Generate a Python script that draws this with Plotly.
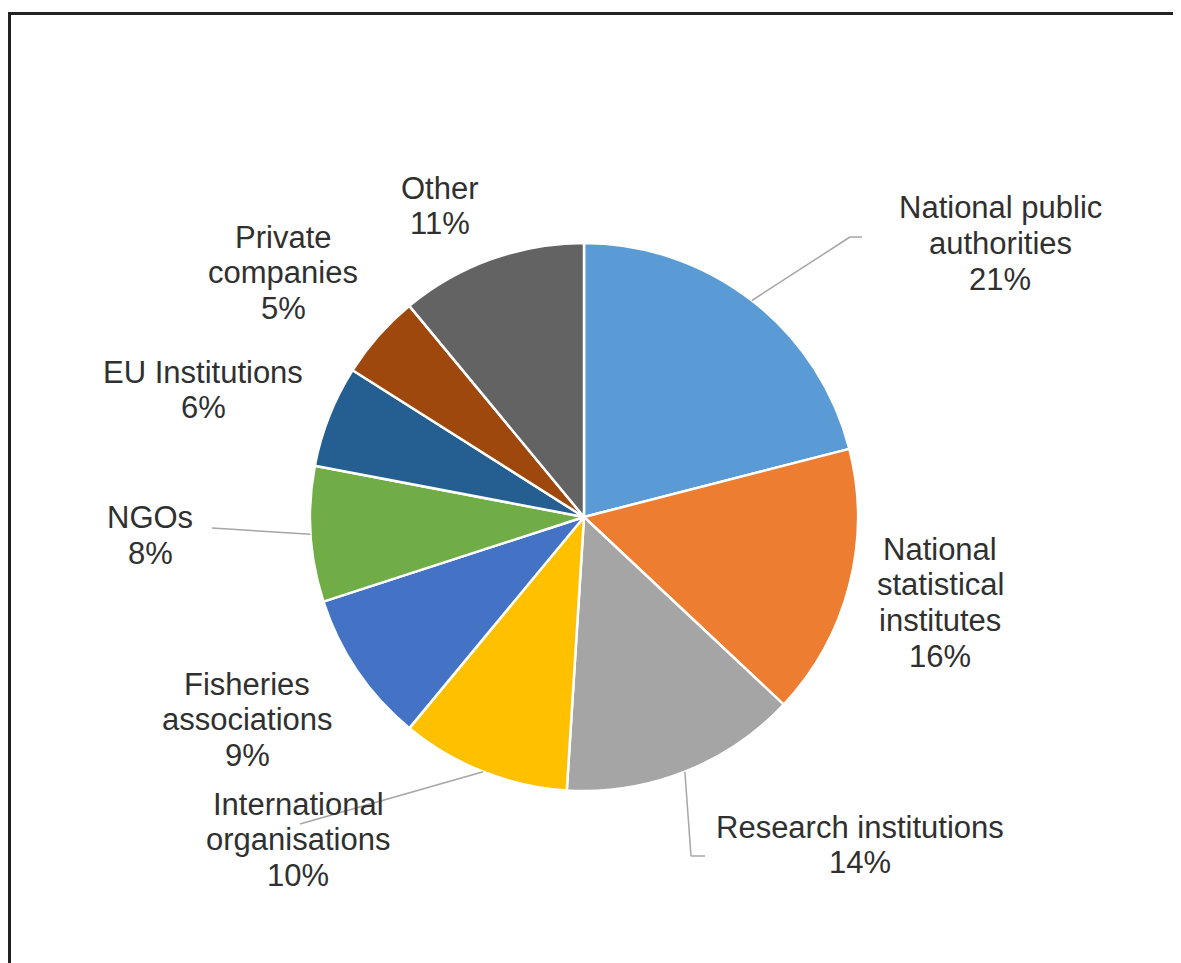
import math
import plotly.graph_objects as go

W, H = 1181, 963
OX, OY = 8, 7  # page offset of the figure inside the browser window

categories = ["National public authorities", "National statistical institutes",
              "Research institutions", "International organisations",
              "Fisheries associations", "NGOs", "EU Institutions",
              "Private companies", "Other"]
values = [21, 16, 14, 10, 9, 8, 6, 5, 11]
label_lines = [["National public", "authorities"],
               ["National", "statistical", "institutes"],
               ["Research institutions"],
               ["International", "organisations"],
               ["Fisheries", "associations"],
               ["NGOs"],
               ["EU Institutions"],
               ["Private", "companies"],
               ["Other"]]
colors = ["#5B9BD5", "#ED7D31", "#A5A5A5", "#FFC000", "#4472C4",
          "#70AD47", "#255E91", "#9E480E", "#636363"]

# layout (pixel, window coordinates) settings
CX, CY, R = 584, 516, 274
LINE_H = 35.7
# (center x, first-line center y) of each label
label_pos = [(1000, 207), (940, 548), (860, 826), (298, 803), (247, 683),
             (150, 517), (203, 371), (283, 236), (440, 187)]
# leader line end points (px) for labels that have one; None otherwise
leader_end = [[(850, 236), (862, 236)], None, [(691, 855), (705, 855)],
              [(300, 823)], None, [(212, 527)], None, None, None]


def px(x, y):
    return (x - OX) / W, 1 - (y - OY) / H


d0 = px(CX - R, CY + R)
d1 = px(CX + R, CY - R)
fig = go.Figure(go.Pie(
    labels=categories, values=values, sort=False, direction="clockwise",
    rotation=0, textinfo="none", hoverinfo="label+percent",
    marker=dict(colors=colors, line=dict(color="white", width=2.5)),
    domain=dict(x=[d0[0], d1[0]], y=[d0[1], d1[1]]),
    showlegend=False,
))

total = sum(values)
shapes = []
annotations = []
cum = 0
for i, v in enumerate(values):
    mid = (cum + v / 2) / total * 2 * math.pi
    cum += v
    pct = round(v / total * 100)
    lines = label_lines[i] + [f"{pct}%"]
    bx, by = label_pos[i]
    for k, t in enumerate(lines):
        lx, ly = px(bx, by + k * LINE_H)
        annotations.append(dict(x=lx, y=ly, xref="paper", yref="paper", text=t,
                                showarrow=False, xanchor="center", yanchor="middle",
                                font=dict(family="Liberation Sans, Arial", size=31,
                                          color="#303030")))
    if leader_end[i]:
        pts = [(CX + R * math.sin(mid), CY - R * math.cos(mid))] + leader_end[i]
        for (x0, y0), (x1, y1) in zip(pts[:-1], pts[1:]):
            a0, b0 = px(x0, y0)
            a1, b1 = px(x1, y1)
            shapes.append(dict(type="line", xref="paper", yref="paper",
                               x0=a0, y0=b0, x1=a1, y1=b1,
                               line=dict(color="#A6A6A6", width=1.5)))

# frame (top and left edges visible)
fy = px(6, 12.5)[1]
fx = 1.5 / W
shapes.append(dict(type="line", xref="paper", yref="paper",
                   x0=0, y0=fy, x1=1, y1=fy,
                   line=dict(color="#222222", width=3)))
shapes.append(dict(type="line", xref="paper", yref="paper",
                   x0=fx, y0=fy, x1=fx, y1=0,
                   line=dict(color="#222222", width=3)))

fig.update_layout(width=W, height=H, margin=dict(l=0, r=0, t=0, b=0),
                  paper_bgcolor="white", plot_bgcolor="white",
                  shapes=shapes, annotations=annotations)
fig.write_html("out.html")
